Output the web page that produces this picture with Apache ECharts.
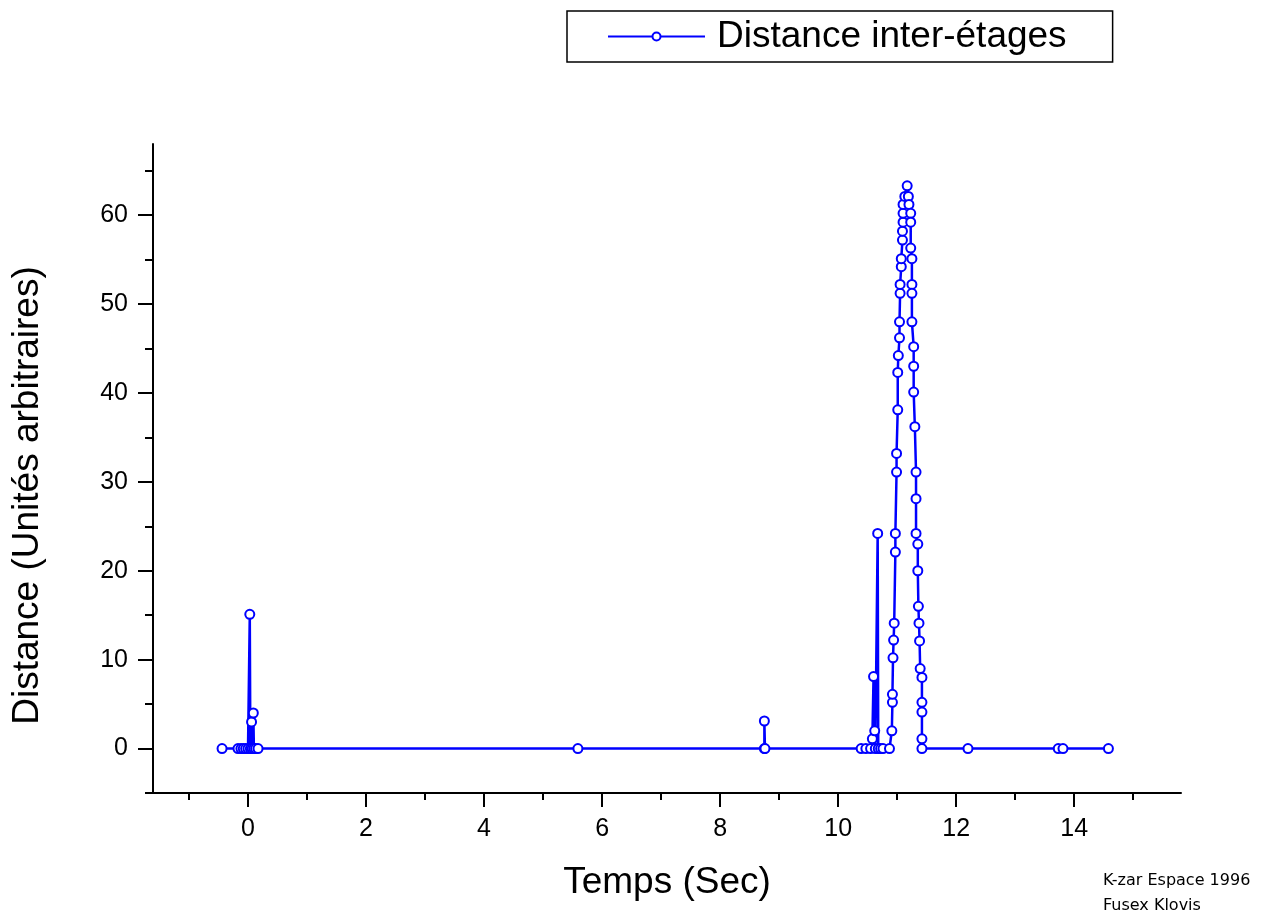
<!DOCTYPE html>
<html>
<head>
<meta charset="utf-8">
<script src="https://cdn.jsdelivr.net/npm/echarts@6/dist/echarts.min.js"></script>
<style>
  html, body { margin: 0; padding: 0; background: #fff; }
  #chart { width: 1271px; height: 912px; }
</style>
</head>
<body>
<div id="chart"></div>
<script>
// Time (s) and inter-stage distance (arbitrary units)
const timeSec = [
  -0.44, -0.17, -0.12, -0.08, -0.04, 0.0, 0.03, 0.04, 0.06, 0.07, 0.09, 0.1, 0.13, 0.17,
  5.59, 8.75, 8.75, 8.76,
  10.39, 10.47, 10.55, 10.58, 10.6, 10.62, 10.63, 10.67, 10.68, 10.72, 10.76, 10.87,
  10.91, 10.92, 10.92, 10.93, 10.94, 10.95, 10.97, 10.97, 10.99, 10.99, 11.01, 11.01, 11.02,
  11.04, 11.04, 11.05, 11.05, 11.07, 11.07, 11.09, 11.09, 11.1, 11.1, 11.1, 11.13, 11.17,
  11.19, 11.2, 11.23, 11.23, 11.23, 11.25, 11.25, 11.25, 11.25, 11.28, 11.28, 11.28, 11.3,
  11.32, 11.32, 11.32, 11.35, 11.35, 11.36, 11.37, 11.38, 11.39, 11.42, 11.42, 11.42, 11.42, 11.42,
  12.2, 13.73, 13.81, 14.58
];
const distance = [
  0, 0, 0, 0, 0, 0, 15.1, 0, 3, 0, 4.0, 0, 0, 0,
  0, 0, 3.1, 0,
  0, 0, 0, 1.1, 8.1, 2.0, 0, 24.2, 0, 0, 0, 0,
  2.0, 5.2, 6.1, 10.2, 12.2, 14.1, 22.1, 24.2, 31.1, 33.2, 38.1, 42.3, 44.2,
  46.2, 48.0, 51.2, 52.2, 54.2, 55.1, 57.2, 58.2, 59.2, 60.2, 61.2, 62.1, 63.3,
  62.1, 61.2, 60.2, 59.2, 56.3, 55.1, 52.2, 51.2, 48.0, 45.2, 43.0, 40.1, 36.2,
  31.1, 28.1, 24.2, 23.0, 20.0, 16.0, 14.1, 12.1, 9.0, 8.0, 5.2, 4.1, 1.1, 0,
  0, 0, 0, 0
];
const xMajorTicks = [0, 2, 4, 6, 8, 10, 12, 14];
const xMinorTicks = [-1, 1, 3, 5, 7, 9, 11, 13, 15];
const yMajorTicks = [0, 10, 20, 30, 40, 50, 60];
const yMinorTicks = [-5, 5, 15, 25, 35, 45, 55, 65];

const FONT = '"Liberation Sans", Arial, sans-serif';
const chart = echarts.init(document.getElementById('chart'));

const option = {
  animation: false,
  backgroundColor: '#fff',
  textStyle: { fontFamily: FONT },
  grid: { left: 153, right: 90, top: 144, bottom: 119 },
  legend: {
    left: 567,
    top: 11,
    padding: [7, 46, 7, 40],
    borderColor: '#000',
    borderWidth: 1.5,
    itemWidth: 97,
    itemHeight: 10,
    textStyle: { fontSize: 37, color: '#000', fontFamily: FONT, padding: [0, 0, 0, 7] },
    data: ['Distance inter-étages']
  },
  xAxis: [
    {
      type: 'value',
      position: 'bottom',
      min: -1.61,
      max: 15.81,
      name: 'Temps (Sec)',
      nameLocation: 'middle',
      nameGap: 71,
      nameTextStyle: { fontSize: 37, color: '#000', fontFamily: FONT },
      axisLine: { show: true, onZero: false, lineStyle: { color: '#000', width: 2 } },
      axisTick: { show: true, length: 14, lineStyle: { color: '#000', width: 2 }, customValues: xMajorTicks },
      axisLabel: { fontSize: 25, color: '#000', margin: 24, customValues: xMajorTicks },
      splitLine: { show: false }
    },
    {
      type: 'value',
      position: 'bottom',
      min: -1.61,
      max: 15.81,
      axisLine: { show: false, onZero: false },
      axisTick: { show: true, length: 7, lineStyle: { color: '#000', width: 2 }, customValues: xMinorTicks },
      axisLabel: { show: false },
      splitLine: { show: false }
    }
  ],
  yAxis: [
    {
      type: 'value',
      position: 'left',
      min: -5,
      max: 68,
      name: 'Distance (Unités arbitraires)',
      nameLocation: 'middle',
      nameGap: 107,
      nameTextStyle: { fontSize: 37, color: '#000', fontFamily: FONT, padding: [0, 54, 0, 0] },
      axisLine: { show: true, onZero: false, lineStyle: { color: '#000', width: 2 } },
      axisTick: { show: true, length: 15, lineStyle: { color: '#000', width: 2 }, customValues: yMajorTicks },
      axisLabel: { fontSize: 25, color: '#000', margin: 25, customValues: yMajorTicks },
      splitLine: { show: false }
    },
    {
      type: 'value',
      position: 'left',
      min: -5,
      max: 68,
      axisLine: { show: false, onZero: false },
      axisTick: { show: true, length: 8, lineStyle: { color: '#000', width: 2 }, customValues: yMinorTicks },
      axisLabel: { show: false },
      splitLine: { show: false }
    }
  ],
  graphic: [
    { type: 'text', left: 1103, top: 873, style: { text: 'K-zar Espace 1996', font: '16px "DejaVu Sans", sans-serif', fill: '#000' } },
    { type: 'text', left: 1103, top: 898, style: { text: 'Fusex Klovis', font: '16px "DejaVu Sans", sans-serif', fill: '#000' } }
  ],
  series: [
    {
      name: 'Distance inter-étages',
      type: 'line',
      data: timeSec.map((t, i) => [t, distance[i]]),
      symbol: 'emptyCircle',
      symbolSize: 9,
      showAllSymbol: true,
      lineStyle: { color: '#0000ff', width: 2.5 },
      itemStyle: { color: '#0000ff', borderWidth: 2.2 }
    }
  ]
};

chart.setOption(option);
</script>
</body>
</html>
